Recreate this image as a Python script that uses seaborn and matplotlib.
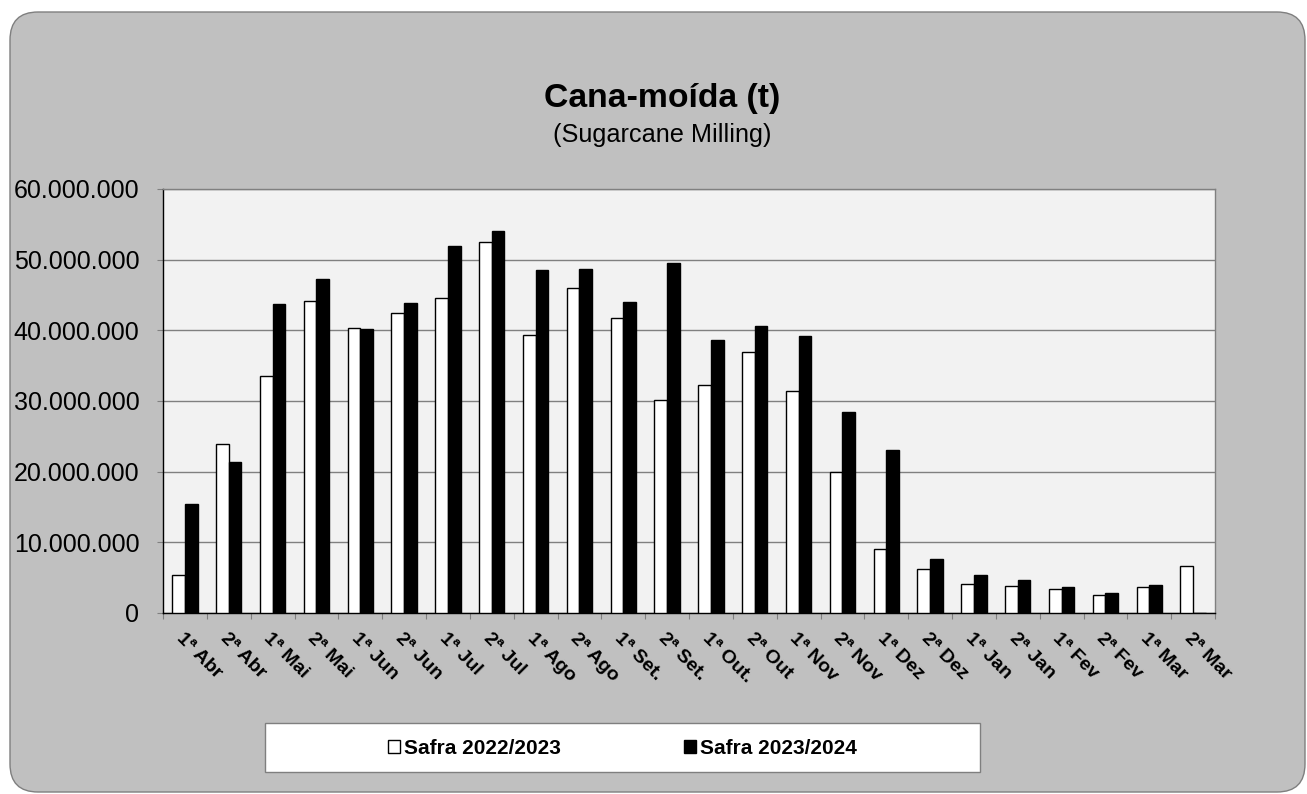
import numpy as np
import pandas as pd
import matplotlib
matplotlib.use("Agg")
import matplotlib.pyplot as plt
from matplotlib.patches import FancyBboxPatch, Rectangle
from matplotlib.ticker import FuncFormatter, FixedLocator
import seaborn as sns

# Quinzenas da safra (abril a março)
periods = ["1ª Abr", "2ª Abr", "1ª Mai", "2ª Mai", "1ª Jun", "2ª Jun",
           "1ª Jul", "2ª Jul", "1ª Ago", "2ª Ago", "1ª Set.", "2ª Set.",
           "1ª Out.", "2ª Out", "1ª Nov", "2ª Nov", "1ª Dez", "2ª Dez",
           "1ª Jan", "2ª Jan", "1ª Fev", "2ª Fev", "1ª Mar", "2ª Mar"]

# Cana-moída (t)
safra_2223 = [5.33e6, 23.9e6, 33.6e6, 44.2e6, 40.4e6, 42.5e6,
              44.6e6, 52.5e6, 39.4e6, 46.0e6, 41.8e6, 30.2e6,
              32.2e6, 37.0e6, 31.4e6, 20.0e6, 9.06e6, 6.18e6,
              4.15e6, 3.82e6, 3.44e6, 2.60e6, 3.68e6, 6.65e6]
safra_2324 = [15.4e6, 21.3e6, 43.7e6, 47.3e6, 40.2e6, 43.8e6,
              52.0e6, 54.0e6, 48.5e6, 48.7e6, 44.0e6, 49.5e6,
              38.6e6, 40.6e6, 39.2e6, 28.4e6, 23.0e6, 7.6e6,
              5.33e6, 4.67e6, 3.68e6, 2.78e6, 3.9e6, 0.0]

series_names = ["Safra 2022/2023", "Safra 2023/2024"]

df = pd.DataFrame({
    "periodo": periods * 2,
    "valor": safra_2223 + safra_2324,
    "safra": [series_names[0]] * len(periods) + [series_names[1]] * len(periods),
})

sns.set_style("white")
plt.rcParams["font.family"] = ["Liberation Sans", "DejaVu Sans"]
plt.rcParams["text.color"] = "black"
plt.rcParams["xtick.color"] = "black"
plt.rcParams["ytick.color"] = "black"
plt.rcParams["axes.labelcolor"] = "black"

W, H = 1307, 794
fig = plt.figure(figsize=(W / 100, H / 100), dpi=100)
fig.patch.set_facecolor("white")

# rounded grey chart area
bg = FancyBboxPatch((0.10, 0.02), 12.95, 7.80,
                    boxstyle="round,pad=0,rounding_size=0.28",
                    transform=fig.dpi_scale_trans,
                    facecolor="#C0C0C0", edgecolor="#7F7F7F", linewidth=1.0,
                    zorder=-5)
fig.patches.append(bg)

ax = fig.add_axes([163 / W, 1 - 613 / H, (1215 - 163) / W, (613 - 189) / H])
ax.set_zorder(3)
ax.set_facecolor("#F2F2F2")

sns.barplot(data=df, x="periodo", y="valor", hue="safra", order=periods,
            hue_order=series_names,
            palette={series_names[0]: "white", series_names[1]: "black"},
            edgecolor="black", linewidth=1.0, width=0.58, gap=0,
            saturation=1, ax=ax, zorder=3)

handles, labels = ax.get_legend_handles_labels()
if ax.legend_ is not None:
    ax.legend_.remove()

ax.set_ylim(0, 60e6)
ax.set_xlim(-0.5, len(periods) - 0.5)
ax.set_yticks(np.arange(0, 60e6 + 1, 10e6))
ax.yaxis.set_major_formatter(FuncFormatter(lambda v, p: f"{int(v):,}".replace(",", ".")))
ax.grid(axis="y", color="#808080", linewidth=1.0, zorder=0)
ax.set_axisbelow(True)
ax.set_xlabel("")
ax.set_ylabel("")

# ticks between categories, labels at centres
ax.xaxis.set_minor_locator(FixedLocator(np.arange(-0.5, len(periods), 1.0)))
ax.tick_params(axis="x", which="major", length=0, pad=12)
ax.tick_params(axis="x", which="minor", length=4.5, width=0.8, color="#808080",
               direction="out", bottom=True)
ax.tick_params(axis="y", length=4.5, width=0.8, color="#808080", direction="out",
               left=True, labelsize=18, pad=12.5, labelcolor="black")
ax.set_xticks(range(len(periods)))
ax.set_xticklabels(periods, rotation=-45, ha="left", va="top",
                   rotation_mode="anchor", fontsize=14, fontweight="bold",
                   color="black")

for side in ["top", "right"]:
    ax.spines[side].set_visible(True)
    ax.spines[side].set_color("#808080")
    ax.spines[side].set_linewidth(1.0)
for side in ["left", "bottom"]:
    ax.spines[side].set_visible(True)
    ax.spines[side].set_color("black")
    ax.spines[side].set_linewidth(1.0)

# titles
fig.text(662 / W, 1 - 107 / H, "Cana-moída (t)", ha="center", va="baseline",
         fontsize=24.3, fontweight="bold", color="black")
fig.text(662 / W, 1 - 142 / H, "(Sugarcane Milling)", ha="center", va="baseline",
         fontsize=18.2, color="black")

# legend box
fig.patches.append(Rectangle((265 / W, 1 - 772 / H), (980 - 265) / W, (772 - 723) / H,
                             transform=fig.transFigure, facecolor="white",
                             edgecolor="#7F7F7F", linewidth=1.0, zorder=1))
leg = fig.legend(handles, labels, loc="center left",
                 bbox_to_anchor=(388 / W, 1 - 748 / H), ncol=2, frameon=False,
                 borderpad=0, borderaxespad=0,
                 handlelength=0.58, handleheight=0.58, handletextpad=0.2,
                 columnspacing=5.9,
                 prop={"weight": "bold", "size": 15})
leg.set_zorder(4)
for t in leg.get_texts():
    t.set_color("black")

fig.savefig("out.png", dpi=100, facecolor=fig.get_facecolor())
